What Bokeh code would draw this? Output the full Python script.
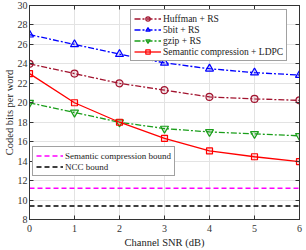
from bokeh.plotting import figure
from bokeh.models import Range1d, Legend, LegendItem, LinearAxis, FixedTicker
from bokeh.embed import file_html
from bokeh.resources import INLINE

snr = [0, 1, 2, 3, 4, 5, 6]
huffman_rs = [24.0, 23.0, 22.0, 21.3, 20.6, 20.4, 20.25]
fivebit_rs = [27.0, 26.0, 25.0, 24.1, 23.5, 23.1, 22.85]
gzip_rs = [20.0, 19.0, 18.0, 17.35, 17.0, 16.8, 16.6]
semantic_ldpc = [23.0, 20.0, 18.0, 16.35, 15.05, 14.45, 13.95]
semantic_bound = 11.2
ncc_bound = 9.4
x_ticks = [0, 1, 2, 3, 4, 5, 6]
y_ticks = [8, 10, 12, 14, 16, 18, 20, 22, 24, 26, 28, 30]

FONT = "'Liberation Serif', 'Times New Roman', serif"

p = figure(width=306, height=250, output_backend="svg", toolbar_location=None,
           x_range=Range1d(0, 6), y_range=Range1d(8, 30),
           min_border_left=28, min_border_right=7, min_border_top=5, min_border_bottom=30)
p.background_fill_color = "white"
p.border_fill_color = "white"
p.outline_line_color = "#333333"
p.outline_line_width = 1

for ax in (p.xaxis[0], p.yaxis[0]):
    ax.major_tick_in = 4
    ax.major_tick_out = 0
    ax.minor_tick_line_color = None
    ax.axis_line_color = "#333333"
    ax.major_tick_line_color = "#333333"
    ax.major_label_text_font = FONT
    ax.major_label_text_font_size = "10px"
    ax.major_label_text_color = "#333333"
    ax.axis_label_text_font = FONT
    ax.axis_label_text_font_size = "10.5px"
    ax.axis_label_text_font_style = "normal"
    ax.axis_label_text_color = "#222222"
p.xaxis[0].ticker = FixedTicker(ticks=x_ticks)
p.yaxis[0].ticker = FixedTicker(ticks=y_ticks)
p.xaxis[0].major_label_standoff = 5
p.xaxis[0].axis_label_standoff = 2
p.yaxis[0].major_label_standoff = 2
p.yaxis[0].axis_label_standoff = 0
p.xaxis[0].axis_label = "Channel SNR (dB)"
p.yaxis[0].axis_label = "Coded bits per word"

for loc, ticks in (("right", y_ticks), ("above", x_ticks)):
    ax = LinearAxis(ticker=FixedTicker(ticks=ticks),
                    major_label_overrides={t: "" for t in ticks},
                    major_label_text_color=None, major_label_text_font_size="1px",
                    major_tick_in=4, major_tick_out=0, major_label_standoff=0,
                    minor_tick_line_color=None, axis_line_color="#333333",
                    major_tick_line_color="#333333")
    p.add_layout(ax, loc)

p.xgrid.ticker = FixedTicker(ticks=x_ticks)
p.ygrid.ticker = FixedTicker(ticks=y_ticks)
p.grid.grid_line_color = "#e3e3e3"
p.grid.grid_line_width = 1

series = [
    ("Huffman + RS", huffman_rs, "#A2142F", "circle", "6 2 2 2", 7),
    ("5bit + RS", fivebit_rs, "#0000FF", "triangle", "6 2 2 2", 8),
    ("gzip + RS", gzip_rs, "#1A9E1A", "inverted_triangle", "6 2 2 2", 8),
    ("Semantic compression + LDPC", semantic_ldpc, "#FF0000", "square", "solid", 6),
]
items1 = []
for label, ys, color, marker, dash, size in series:
    lr = p.line(snr, ys, line_color=color, line_width=1.3, line_dash=dash)
    sr = p.scatter(snr, ys, marker=marker, size=size, line_color=color, line_width=1.2,
                   fill_color=color, fill_alpha=0.12)
    items1.append(LegendItem(label=label, renderers=[lr, sr]))

b1 = p.line([snr[0], snr[-1]], [semantic_bound, semantic_bound], line_color="#FF00FF",
            line_width=1.5, line_dash="5 3")
b2 = p.line([snr[0], snr[-1]], [ncc_bound, ncc_bound], line_color="#000000",
            line_width=1.5, line_dash="5 3")
items2 = [LegendItem(label="Semantic compression bound", renderers=[b1]),
          LegendItem(label="NCC bound", renderers=[b2])]


def style(lg, size):
    lg.label_text_font = FONT
    lg.label_text_font_size = size
    lg.label_text_color = "#222222"
    lg.border_line_color = "#444444"
    lg.border_line_width = 1
    lg.background_fill_alpha = 1
    lg.padding = 3
    lg.spacing = 0
    lg.margin = 0
    lg.glyph_width = 27
    lg.glyph_height = 11
    lg.label_height = 11
    lg.label_standoff = 2
    lg.label_text_baseline = "middle"


leg1 = Legend(items=items1, location=(101, 158))
style(leg1, "9.5px")
leg2 = Legend(items=items2, location=(3, 43))
style(leg2, "9px")
p.add_layout(leg1, "center")
p.add_layout(leg2, "center")

open("out.html", "w").write(file_html(p, INLINE))
